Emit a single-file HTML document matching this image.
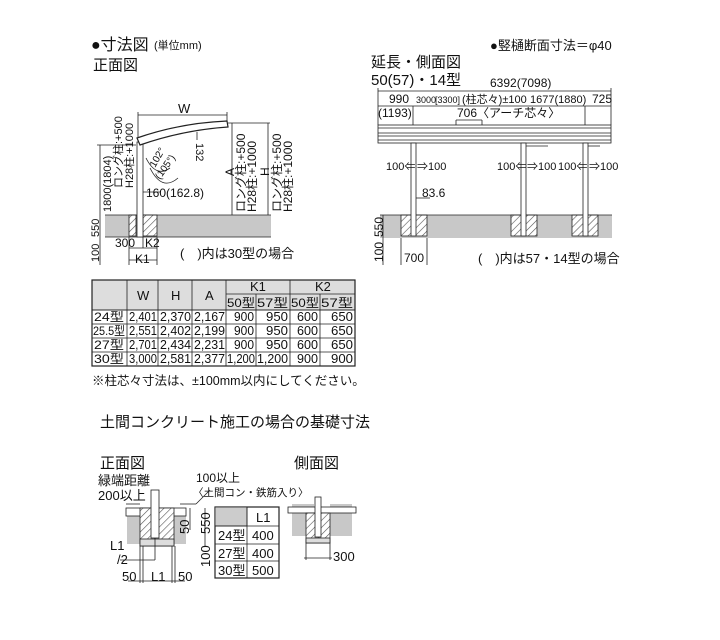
<!DOCTYPE html>
<html><head><meta charset="utf-8"><style>
html,body{margin:0;padding:0;background:#fff;}
svg{display:block;}
text{font-family:"Liberation Sans","Noto Sans CJK JP",sans-serif;fill:#111;}
</style></head><body>
<svg width="720" height="640" viewBox="0 0 720 640" xmlns="http://www.w3.org/2000/svg">
<defs>
<pattern id="h" width="5" height="5" patternUnits="userSpaceOnUse" patternTransform="rotate(45)">
<rect width="5" height="5" fill="#fff"/><line x1="0" y1="0" x2="0" y2="5" stroke="#555" stroke-width="1.2"/></pattern>
</defs>
<text x="91" y="50" font-size="16">●寸法図</text><text x="154" y="49" font-size="11">(単位mm)</text>
<text x="93" y="70" font-size="15">正面図</text>
<text x="490" y="50" font-size="13">●竪樋断面寸法＝φ40</text>
<text x="371" y="67" font-size="15">延長・側面図</text>
<text x="371" y="85" font-size="15">50(57)・14型</text>

<!-- FRONT VIEW -->
<g stroke="#222" fill="none" stroke-width="0.8">
<rect x="105" y="215" width="166" height="22" fill="#c8c8c8" stroke="none"/>
<rect x="129" y="215" width="7" height="21" fill="url(#h)"/>
<rect x="143" y="215" width="14" height="21" fill="url(#h)"/>
<line x1="105" y1="215" x2="271" y2="215"/>
<line x1="105" y1="237" x2="271" y2="237"/>
<rect x="137" y="142" width="6" height="95" fill="#fff"/>
<path d="M137 138 Q180 123 227 121 L228 127 Q183 130 140 145 Z" fill="#fff" stroke-width="1.2"/>
<line x1="138" y1="115" x2="227" y2="115"/><line x1="138" y1="112" x2="138" y2="138"/><line x1="227" y1="112" x2="227" y2="121"/>
<line x1="232" y1="123" x2="232" y2="215"/><line x1="268" y1="123" x2="268" y2="215"/>
<line x1="228" y1="123" x2="270" y2="123"/>
<line x1="100" y1="145" x2="100" y2="265"/>
<line x1="97" y1="145" x2="136" y2="145"/>
<line x1="129" y1="237" x2="129" y2="265"/><line x1="143" y1="237" x2="143" y2="248"/><line x1="157" y1="237" x2="157" y2="265"/>
<line x1="129" y1="248" x2="157" y2="248"/><line x1="129" y1="260" x2="157" y2="260"/>
<path d="M146 158 Q156 178 170 168"/><path d="M150 168 Q162 192 178 178"/>
<line x1="197" y1="132" x2="197" y2="140"/>
<line x1="143" y1="192" x2="160" y2="192"/>
</g>
<text x="178" y="113" font-size="13">W</text>
<text x="146" y="197" font-size="12">160(162.8)</text>
<text x="115" y="247" font-size="12">300</text><text x="145" y="247" font-size="12">K2</text>
<text x="135" y="263" font-size="12">K1</text>
<text x="180" y="258" font-size="13">(　)内は30型の場合</text>
<text transform="translate(155,168) rotate(-60)" font-size="10">102°</text>
<text transform="translate(160,180) rotate(-55)" font-size="10">(105°)</text>
<text transform="translate(196,143) rotate(90)" font-size="11">132</text>
<g font-size="11">
<text transform="translate(111,212) rotate(-90)">1800(1804)</text>
<text transform="translate(122,188) rotate(-90)">ロング柱:+500</text>
<text transform="translate(133,188) rotate(-90)">H28柱:+1000</text>
<text transform="translate(99,237) rotate(-90)">550</text>
<text transform="translate(99,262) rotate(-90)">100</text>
</g>
<g font-size="12">
<text transform="translate(234,176) rotate(-90)">A</text>
<text transform="translate(245,212) rotate(-90)">ロング柱:+500</text>
<text transform="translate(256,212) rotate(-90)">H28柱:+1000</text>
<text transform="translate(269,176) rotate(-90)">H</text>
<text transform="translate(281,212) rotate(-90)">ロング柱:+500</text>
<text transform="translate(292,212) rotate(-90)">H28柱:+1000</text>
</g>

<!-- SIDE VIEW -->
<g stroke="#222" fill="none" stroke-width="0.8">
<rect x="380" y="215" width="232" height="23" fill="#c8c8c8" stroke="none"/>
<rect x="401" y="215" width="26" height="21" fill="url(#h)"/>
<rect x="511" y="215" width="26" height="21" fill="url(#h)"/>
<rect x="572" y="215" width="26" height="21" fill="url(#h)"/>
<line x1="380" y1="215" x2="612" y2="215"/>
<line x1="378" y1="91" x2="611" y2="91"/>
<line x1="378" y1="106" x2="611" y2="106"/>
<line x1="378" y1="88" x2="378" y2="125"/><line x1="611" y1="88" x2="611" y2="125"/>
<line x1="413" y1="106" x2="413" y2="125"/><line x1="585" y1="106" x2="585" y2="125"/>
<line x1="456" y1="120" x2="482" y2="120"/><line x1="456" y1="120" x2="456" y2="125"/><line x1="482" y1="120" x2="482" y2="125"/>
<rect x="378" y="125" width="233" height="18" fill="#fff"/>
<line x1="378" y1="128" x2="611" y2="128"/><line x1="378" y1="133" x2="611" y2="133"/><line x1="378" y1="136" x2="611" y2="136"/><line x1="378" y1="140" x2="611" y2="140"/>
<rect x="411" y="143" width="5" height="93" fill="#fff"/>
<rect x="521" y="143" width="5" height="93" fill="#fff"/>
<rect x="583" y="143" width="5" height="93" fill="#fff"/>
<line x1="526" y1="146" x2="548" y2="146"/><line x1="588" y1="146" x2="600" y2="146"/>
<line x1="401" y1="238" x2="401" y2="265"/><line x1="427" y1="238" x2="427" y2="265"/>
<line x1="383" y1="215" x2="383" y2="265"/>
<line x1="416" y1="198" x2="430" y2="198"/>
</g>
<g font-size="12">
<text x="490" y="87">6392(7098)</text>
<text x="389" y="103">990</text>
<text x="416" y="103" font-size="9">3000</text><text x="435" y="103" font-size="9">[3300]</text>
<text x="462" y="103" font-size="11">(柱芯々)±100</text>
<text x="530" y="103" font-size="11">1677(1880)</text><text x="592" y="103">725</text>
<text x="378" y="117">(1193)</text>
<text x="457" y="117">706〈アーチ芯々〉</text>
<text x="386" y="170" font-size="11">100⇐</text><text x="417" y="170" font-size="11">⇒100</text>
<text x="497" y="170" font-size="11">100⇐</text><text x="527" y="170" font-size="11">⇒100</text>
<text x="558" y="170" font-size="11">100⇐</text><text x="589" y="170" font-size="11">⇒100</text>
<text x="422" y="197">83.6</text>
<text x="404" y="262">700</text>
<text transform="translate(383,237) rotate(-90)">550</text>
<text transform="translate(383,262) rotate(-90)">100</text>
</g>
<text x="478" y="263" font-size="13">(　)内は57・14型の場合</text>

<!-- TABLE -->
<g stroke="#222" stroke-width="0.8" fill="none">
<rect x="92" y="280" width="263" height="30" fill="#ddd"/>
<rect x="92" y="280" width="263" height="86" stroke-width="1.2"/>
<line x1="92" y1="310" x2="355" y2="310"/>
<line x1="92" y1="324" x2="355" y2="324"/><line x1="92" y1="338" x2="355" y2="338"/><line x1="92" y1="352" x2="355" y2="352"/>
<line x1="226" y1="294" x2="355" y2="294"/>
<line x1="127" y1="280" x2="127" y2="366"/><line x1="158" y1="280" x2="158" y2="366"/><line x1="192" y1="280" x2="192" y2="366"/><line x1="226" y1="280" x2="226" y2="366"/>
<line x1="256" y1="294" x2="256" y2="366"/><line x1="290" y1="280" x2="290" y2="366"/><line x1="320" y1="294" x2="320" y2="366"/>
</g>
<g font-size="13">
<text x="137" y="300">W</text><text x="171" y="300">H</text><text x="205" y="300">A</text>
<text x="250" y="291">K1</text><text x="315" y="291">K2</text>
<g font-size="12">
<text x="227" y="307" textLength="28" lengthAdjust="spacingAndGlyphs">50型</text><text x="257" y="307" textLength="31" lengthAdjust="spacingAndGlyphs">57型</text><text x="291" y="307" textLength="28" lengthAdjust="spacingAndGlyphs">50型</text><text x="321" y="307" textLength="32" lengthAdjust="spacingAndGlyphs">57型</text>
<text x="94" y="321" textLength="30" lengthAdjust="spacingAndGlyphs">24型</text><text x="93" y="335" textLength="32" lengthAdjust="spacingAndGlyphs">25.5型</text><text x="94" y="349" textLength="30" lengthAdjust="spacingAndGlyphs">27型</text><text x="94" y="363" textLength="30" lengthAdjust="spacingAndGlyphs">30型</text>
</g>
<text x="129" y="321" textLength="28" lengthAdjust="spacingAndGlyphs">2,401</text><text x="160" y="321" textLength="31" lengthAdjust="spacingAndGlyphs">2,370</text><text x="194" y="321" textLength="31" lengthAdjust="spacingAndGlyphs">2,167</text><text x="234" y="321" textLength="20" lengthAdjust="spacingAndGlyphs">900</text><text x="266" y="321" textLength="22" lengthAdjust="spacingAndGlyphs">950</text><text x="297" y="321" textLength="21" lengthAdjust="spacingAndGlyphs">600</text><text x="331" y="321" textLength="22" lengthAdjust="spacingAndGlyphs">650</text>
<text x="129" y="335" textLength="28" lengthAdjust="spacingAndGlyphs">2,551</text><text x="160" y="335" textLength="31" lengthAdjust="spacingAndGlyphs">2,402</text><text x="194" y="335" textLength="31" lengthAdjust="spacingAndGlyphs">2,199</text><text x="234" y="335" textLength="20" lengthAdjust="spacingAndGlyphs">900</text><text x="266" y="335" textLength="22" lengthAdjust="spacingAndGlyphs">950</text><text x="297" y="335" textLength="21" lengthAdjust="spacingAndGlyphs">600</text><text x="331" y="335" textLength="22" lengthAdjust="spacingAndGlyphs">650</text>
<text x="129" y="349" textLength="28" lengthAdjust="spacingAndGlyphs">2,701</text><text x="160" y="349" textLength="31" lengthAdjust="spacingAndGlyphs">2,434</text><text x="194" y="349" textLength="31" lengthAdjust="spacingAndGlyphs">2,231</text><text x="234" y="349" textLength="20" lengthAdjust="spacingAndGlyphs">900</text><text x="266" y="349" textLength="22" lengthAdjust="spacingAndGlyphs">950</text><text x="297" y="349" textLength="21" lengthAdjust="spacingAndGlyphs">600</text><text x="331" y="349" textLength="22" lengthAdjust="spacingAndGlyphs">650</text>
<text x="129" y="363" textLength="28" lengthAdjust="spacingAndGlyphs">3,000</text><text x="160" y="363" textLength="31" lengthAdjust="spacingAndGlyphs">2,581</text><text x="194" y="363" textLength="31" lengthAdjust="spacingAndGlyphs">2,377</text><text x="227" y="363" textLength="28" lengthAdjust="spacingAndGlyphs">1,200</text><text x="257" y="363" textLength="31" lengthAdjust="spacingAndGlyphs">1,200</text><text x="297" y="363" textLength="21" lengthAdjust="spacingAndGlyphs">900</text><text x="331" y="363" textLength="22" lengthAdjust="spacingAndGlyphs">900</text>
</g>
<text x="92" y="385" font-size="12.5">※柱芯々寸法は、±100mm以内にしてください。</text>

<text x="100" y="427" font-size="15">土間コンクリート施工の場合の基礎寸法</text>

<!-- BOTTOM -->
<text x="100" y="468" font-size="15">正面図</text>
<text x="294" y="468" font-size="15">側面図</text>
<text x="98" y="485" font-size="13">緑端距離</text>
<text x="98" y="500" font-size="13">200以上</text>
<text x="196" y="482" font-size="12">100以上</text>
<text x="193" y="496" font-size="10.5">〈土間コン・鉄筋入り〉</text>
<g stroke="#222" stroke-width="0.8" fill="none">
<rect x="127" y="516" width="15" height="28" fill="#c8c8c8" stroke="none"/>
<rect x="172" y="516" width="14" height="28" fill="#c8c8c8" stroke="none"/>
<rect x="126" y="508" width="60" height="8" fill="#fff"/>
<rect x="140" y="508" width="34" height="38" fill="url(#h)"/>
<rect x="140" y="539" width="34" height="7" fill="#ddd"/>
<rect x="151" y="490" width="8" height="48" fill="#fff"/>
<line x1="126" y1="504" x2="140" y2="504"/>
<line x1="180" y1="504" x2="196" y2="504"/><line x1="196" y1="504" x2="210" y2="490"/>
<line x1="205" y1="508" x2="205" y2="546"/>
<line x1="190" y1="508" x2="190" y2="530"/>
<line x1="140" y1="546" x2="140" y2="583"/><line x1="143" y1="546" x2="143" y2="583"/>
<line x1="172" y1="546" x2="172" y2="583"/><line x1="175" y1="546" x2="175" y2="583"/>
<line x1="155" y1="538" x2="155" y2="560"/>
<line x1="120" y1="560" x2="155" y2="560"/>
<line x1="128" y1="581" x2="185" y2="581"/>
<rect x="292" y="504" width="22" height="32" fill="#c8c8c8" stroke="none"/>
<rect x="330" y="504" width="22" height="32" fill="#c8c8c8" stroke="none"/>
<rect x="288" y="507" width="68" height="6" fill="#fff"/>
<rect x="306" y="513" width="24" height="30" fill="url(#h)"/>
<rect x="306" y="538" width="24" height="5" fill="#ddd"/>
<rect x="315" y="497" width="6" height="40" fill="#fff"/>
<line x1="306" y1="543" x2="306" y2="560"/><line x1="330" y1="543" x2="330" y2="560"/>
<line x1="304" y1="558" x2="332" y2="558"/>
<rect x="215" y="507" width="64" height="71" stroke-width="1.2"/>
<rect x="215" y="507" width="32" height="19" fill="#ccc"/>
<line x1="215" y1="526" x2="279" y2="526"/><line x1="215" y1="544" x2="279" y2="544"/><line x1="215" y1="561" x2="279" y2="561"/>
<line x1="247" y1="507" x2="247" y2="578"/>
</g>
<g font-size="13">
<text x="256" y="522">L1</text>
<text x="218" y="540">24型</text><text x="252" y="540">400</text>
<text x="218" y="558">27型</text><text x="252" y="558">400</text>
<text x="218" y="575">30型</text><text x="252" y="575">500</text>
<text x="110" y="550">L1</text><text x="117" y="564">/2</text>
<text x="122" y="581">50</text><text x="151" y="581">L1</text><text x="178" y="581">50</text>
<text x="333" y="561">300</text>
<text transform="translate(189,534) rotate(-90)">50</text>
<text transform="translate(210,534) rotate(-90)">550</text>
<text transform="translate(210,567) rotate(-90)">100</text>
</g>
</svg>
</body></html>
